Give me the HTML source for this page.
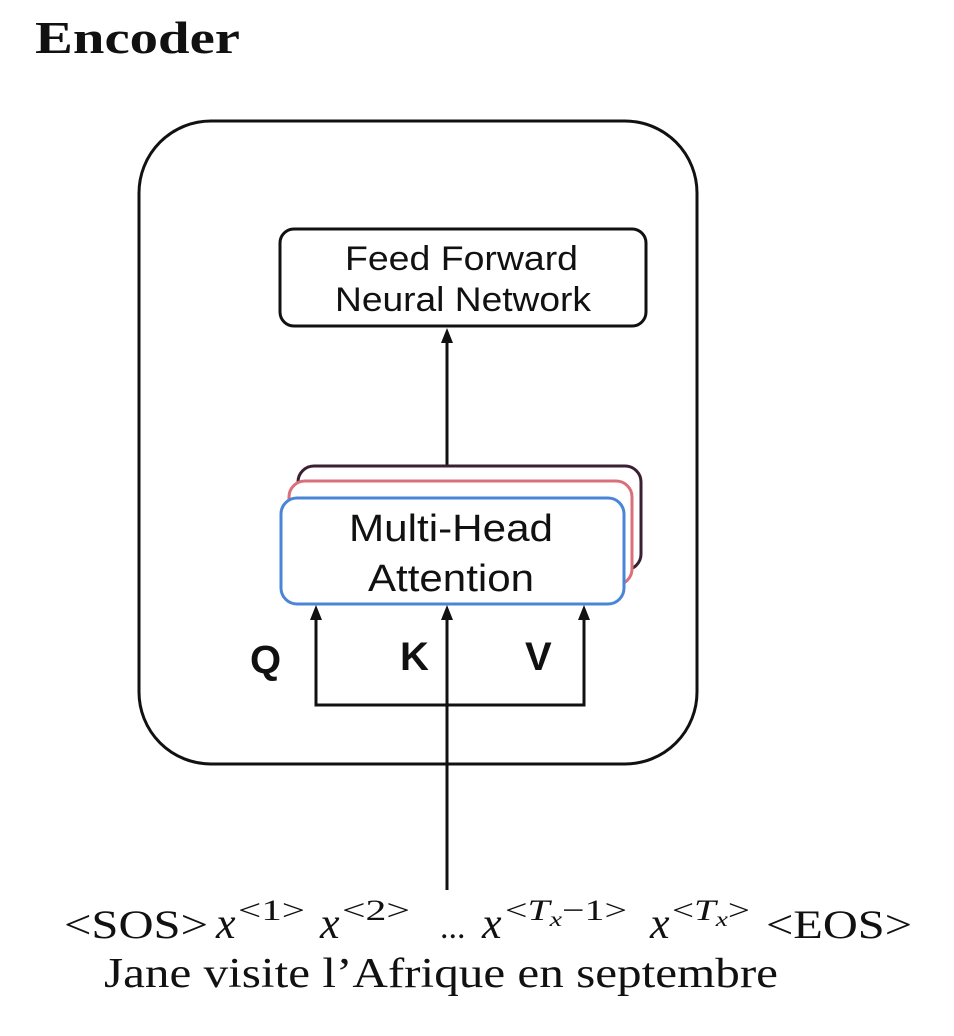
<!DOCTYPE html>
<html><head><meta charset="utf-8"><style>
html,body{margin:0;padding:0;background:#fff;}
svg{display:block;}
</style></head><body>
<svg width="954" height="1036" viewBox="0 0 954 1036" xmlns="http://www.w3.org/2000/svg">
<rect width="954" height="1036" fill="#fff"/>
<text x="35" y="53" font-family="Liberation Serif, serif" font-weight="bold" font-size="46" textLength="205" lengthAdjust="spacingAndGlyphs" fill="#111">Encoder</text>
<rect x="139" y="121" width="558" height="643" rx="72" ry="72" fill="none" stroke="#111" stroke-width="3"/>
<rect x="280" y="229" width="366" height="97" rx="14" fill="#fff" stroke="#111" stroke-width="3"/>
<text x="345" y="270" font-family="Liberation Sans, sans-serif" font-size="34" textLength="233" lengthAdjust="spacingAndGlyphs" fill="#111">Feed Forward</text>
<text x="335" y="311" font-family="Liberation Sans, sans-serif" font-size="34" textLength="256" lengthAdjust="spacingAndGlyphs" fill="#111">Neural Network</text>
<line x1="447" y1="466" x2="447" y2="340" stroke="#111" stroke-width="3"/>
<polygon points="447,328 441,343 453,343" fill="#111"/>
<rect x="298" y="466" width="343" height="104" rx="16" fill="#fff" stroke="#3a2030" stroke-width="3"/>
<rect x="289" y="481" width="343" height="104" rx="16" fill="#fff" stroke="#d9707a" stroke-width="3"/>
<rect x="281" y="498" width="343" height="106" rx="16" fill="#fff" stroke="#4a86d8" stroke-width="3"/>
<text x="349" y="541" font-family="Liberation Sans, sans-serif" font-size="38" textLength="204" lengthAdjust="spacingAndGlyphs" fill="#111">Multi-Head</text>
<text x="368" y="591" font-family="Liberation Sans, sans-serif" font-size="38" textLength="166" lengthAdjust="spacingAndGlyphs" fill="#111">Attention</text>
<g stroke="#111" stroke-width="3" fill="none">
<polyline points="316,618 316,705 584,705 584,618"/>
<line x1="447" y1="618" x2="447" y2="890"/>
</g>
<g fill="#111">
<polygon points="316,605 310,620 322,620"/>
<polygon points="447,605 441,620 453,620"/>
<polygon points="584,605 578,620 590,620"/>
</g>
<text x="250" y="673" font-family="Liberation Sans, sans-serif" font-weight="bold" font-size="40" fill="#111">Q</text>
<text x="400" y="670" font-family="Liberation Sans, sans-serif" font-weight="bold" font-size="40" fill="#111">K</text>
<text x="525" y="670" font-family="Liberation Sans, sans-serif" font-weight="bold" font-size="40" fill="#111">V</text>
<g font-family="Liberation Serif, serif" fill="#111">
<text x="64" y="938" font-size="40" textLength="144" lengthAdjust="spacingAndGlyphs">&lt;SOS&gt;</text>
<text x="216" y="938" font-size="44" font-style="italic">x</text>
<text x="238" y="920" font-size="30" textLength="67" lengthAdjust="spacingAndGlyphs">&lt;1&gt;</text>
<text x="320" y="938" font-size="44" font-style="italic">x</text>
<text x="342" y="920" font-size="30" textLength="68" lengthAdjust="spacingAndGlyphs">&lt;2&gt;</text>
<text x="440" y="938" font-size="34">...</text>
<text x="482" y="938" font-size="44" font-style="italic">x</text>
<text x="505" y="920" font-size="30" textLength="122" lengthAdjust="spacingAndGlyphs">&lt;<tspan font-style="italic">T</tspan><tspan font-style="italic" font-size="21" dy="6">x</tspan><tspan dy="-6">−1&gt;</tspan></text>
<text x="650" y="938" font-size="44" font-style="italic">x</text>
<text x="672" y="920" font-size="30" textLength="78" lengthAdjust="spacingAndGlyphs">&lt;<tspan font-style="italic">T</tspan><tspan font-style="italic" font-size="21" dy="6">x</tspan><tspan dy="-6">&gt;</tspan></text>
<text x="766" y="938" font-size="40" textLength="146" lengthAdjust="spacingAndGlyphs">&lt;EOS&gt;</text>
<text x="104" y="987" font-size="42" textLength="674" lengthAdjust="spacingAndGlyphs">Jane visite l’Afrique en septembre</text>
</g>
</svg>
</body></html>
